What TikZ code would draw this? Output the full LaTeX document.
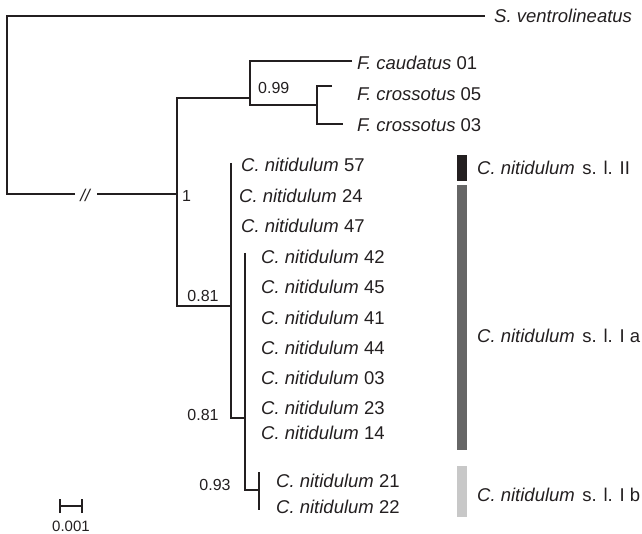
\documentclass[tikz,border=0pt]{standalone}
\usepackage{fontspec}
\setmainfont{Liberation Sans}
\definecolor{ink}{HTML}{231F20}
\definecolor{cladeII}{HTML}{231F20}
\definecolor{cladeIa}{HTML}{666666}
\definecolor{cladeIb}{HTML}{C8C8C8}
\begin{document}
\begin{tikzpicture}[x=1pt,y=-1pt,
  branch/.style={draw=ink,line width=1.8pt},
  taxon/.style={anchor=west,inner sep=0pt,text=ink,font=\fontsize{18.5}{20}\selectfont},
  support/.style={inner sep=0pt,text=ink,font=\fontsize{16}{18}\selectfont},
  cladebar/.style={inner sep=0pt,minimum width=10pt,anchor=north west}]
\useasboundingbox (0,0) rectangle (642,534);

% --- tree coordinates ---
\coordinate (root) at (7,194);
\coordinate (brkL) at (75,194);
\coordinate (brkR) at (97,194);
\coordinate (n1) at (177,194);
\coordinate (nF) at (250,98);
\coordinate (nX) at (317,105);
\coordinate (nC) at (231,306);
\coordinate (cTop) at (231,163);
\coordinate (nD) at (245,418);
\coordinate (dTop) at (245,253);
\coordinate (nE) at (259,490);
\coordinate (eTop) at (259,472);
\coordinate (eBot) at (259,510);
\coordinate (tSv) at (485,16);
\coordinate (tFc) at (352,61);
\coordinate (tX5) at (332,86);
\coordinate (tX3) at (343,124);

% --- branches ---
\draw[branch] (brkL) -- (root) |- (tSv);
\draw[branch] (brkR) -- (n1);
\draw[branch] (nF) -- (nF -| n1) -- (nC -| n1) -- (nC);
\draw[branch] (tFc) -- (tFc -| nF) -- (nX -| nF) -- (nX);
\draw[branch] (tX5) -- (tX5 -| nX) -- (tX3 -| nX) -- (tX3);
\draw[branch] (cTop) -- (nD -| nC) -- (nD);
\draw[branch] (dTop) -- (nE -| nD) -- (nE);
\draw[branch] (eTop) -- (eBot);

% break mark on the outgroup branch
\node[support,font=\fontsize{17}{18}\selectfont\itshape] (brk) at (85,195) {//};

% --- support values ---
\node[support,anchor=west] (s1) at (182,196) {1};
\node[support,anchor=west] (s099) at (258,88) {0.99};
\node[support] (s081a) at (203,296) {0.81};
\node[support] (s081b) at (203,415) {0.81};
\node[support] (s093) at (215,485) {0.93};

% --- leaves ---
\node[taxon] (lSv) at (494,16) {\textit{S. ventrolineatus}};
\node[taxon] (lFc) at (357,63) {\textit{F. caudatus} 01};
\node[taxon] (lX5) at (357,94) {\textit{F. crossotus} 05};
\node[taxon] (lX3) at (357,125) {\textit{F. crossotus} 03};
\node[taxon] (l57) at (241,165) {\textit{C. nitidulum} 57};
\node[taxon] (l24) at (239,196) {\textit{C. nitidulum} 24};
\node[taxon] (l47) at (241,226) {\textit{C. nitidulum} 47};
\node[taxon] (l42) at (261,257) {\textit{C. nitidulum} 42};
\node[taxon] (l45) at (261,287) {\textit{C. nitidulum} 45};
\node[taxon] (l41) at (261,318) {\textit{C. nitidulum} 41};
\node[taxon] (l44) at (261,348) {\textit{C. nitidulum} 44};
\node[taxon] (l03) at (261,378) {\textit{C. nitidulum} 03};
\node[taxon] (l23) at (261,408) {\textit{C. nitidulum} 23};
\node[taxon] (l14) at (261,433) {\textit{C. nitidulum} 14};
\node[taxon] (l21) at (276,481) {\textit{C. nitidulum} 21};
\node[taxon] (l22) at (276,507) {\textit{C. nitidulum} 22};

% --- clade bars and names ---
\node[cladebar,fill=cladeII,minimum height=26pt] (bII) at (457,155) {};
\node[cladebar,fill=cladeIa,minimum height=265pt] (bIa) at (457,185) {};
\node[cladebar,fill=cladeIb,minimum height=51pt] (bIb) at (457,466) {};
\node[taxon] (cII) at (477,168) {\textit{C. nitidulum}\hspace{0.4em}s. l. II};
\node[taxon] (cIa) at (477,336) {\textit{C. nitidulum}\hspace{0.4em}s. l. I a};
\node[taxon] (cIb) at (477,495) {\textit{C. nitidulum}\hspace{0.4em}s. l. I b};

% --- scale bar ---
\coordinate (sbL) at (60,506);
\coordinate (sbR) at (82,506);
\draw[branch,line width=1.4pt] (sbL) -- (sbR);
\draw[branch,line width=1.4pt] ([yshift=-7pt]sbL) -- ([yshift=7pt]sbL);
\draw[branch,line width=1.4pt] ([yshift=-7pt]sbR) -- ([yshift=7pt]sbR);
\node[support,font=\fontsize{15}{18}\selectfont] (sbLab) at (71,526) {0.001};
\end{tikzpicture}
\end{document}
